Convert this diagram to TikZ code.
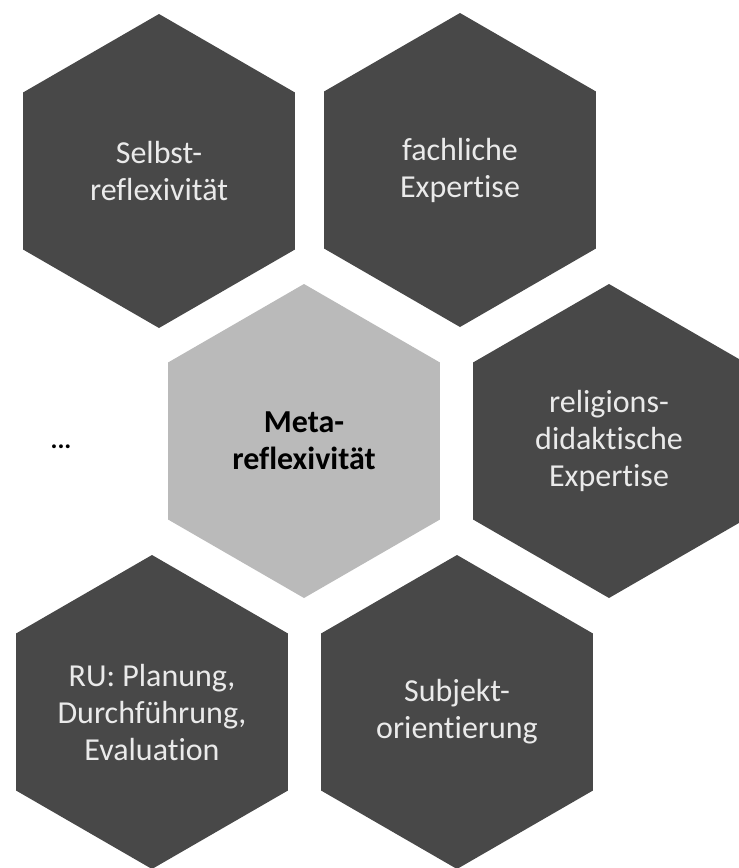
\documentclass[tikz,border=0pt]{standalone}
\usepackage{fontspec}
\setmainfont{Carlito}[Ligatures=NoCommon]
\usetikzlibrary{shapes.geometric}
\definecolor{myDarkGray}{RGB}{72, 72, 72}
\definecolor{myLightGray}{RGB}{186, 186, 186}
\definecolor{myPaleText}{RGB}{234, 234, 234}

\begin{document}
\begin{tikzpicture}[x=1pt, y=-1pt,
	hexagon/.style={regular polygon, regular polygon sides=6, regular polygon rotate=30, minimum size=314pt, inner sep=0pt, align=center, font=\fontsize{32}{37}\selectfont},
	hexdark/.style={hexagon, fill=myDarkGray, text=myPaleText},
	hexlight/.style={hexagon, fill=myLightGray, text=black, font=\fontsize{32}{37}\selectfont\bfseries}]
			\useasboundingbox (0,0) rectangle (739,868);
			\draw (159,171) node[hexdark] (SR) {Selbst-\\reflexivität};
			\draw (460,170) node[hexdark] (FE) {fachliche\\Expertise};
			\draw (304,441) node[hexlight] (MR) {Meta-\\reflexivität};
			\draw (609,441) node[hexdark] (RD) {religions-\\didaktische\\Expertise};
			\draw (152,712) node[hexdark] (RU) {RU: Planung,\\Durchführung,\\Evaluation};
			\draw (457,712) node[hexdark] (SO) {Subjekt-\\orientierung};
			\draw (61,447) node[font=\fontsize{26}{30}\selectfont\bfseries] (etc) {...};
		\end{tikzpicture}
\end{document}
